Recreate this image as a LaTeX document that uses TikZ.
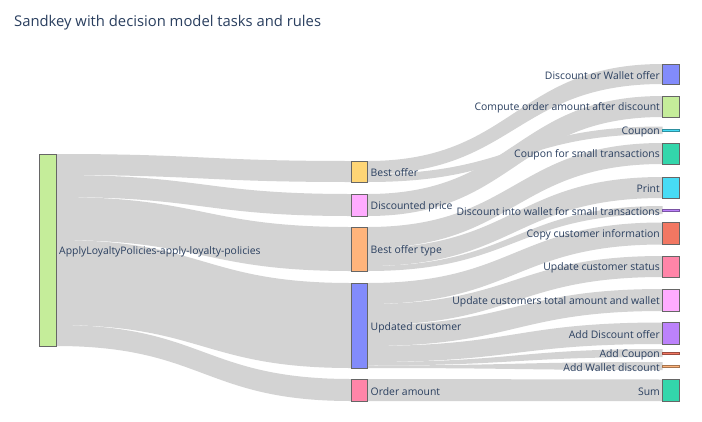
\documentclass[tikz,border=0pt]{standalone}
\usepackage{fontspec}
\setmainfont{Open Sans}
\definecolor{txt}{HTML}{2A3F5F}
\definecolor{flowc}{HTML}{D3D3D3}
\definecolor{cBlue}{HTML}{828BFB}
\definecolor{cGreen}{HTML}{C5ED9A}
\definecolor{cYellow}{HTML}{FED575}
\definecolor{cPink}{HTML}{FFACFF}
\definecolor{cOrange}{HTML}{FFB47B}
\definecolor{cRose}{HTML}{FF85A8}
\definecolor{cTeal}{HTML}{33D6AB}
\definecolor{cCyan}{HTML}{47DCF5}
\definecolor{cPurple}{HTML}{BC82FB}
\definecolor{cRed}{HTML}{F27762}
\pgfdeclarelayer{bg}
\pgfsetlayers{bg,main}
\tikzset{
  box/.style={draw=black!60, line width=0.5pt, inner sep=0pt, outer sep=0pt,
    minimum width=16.5pt, anchor=north west},
  thin/.style={box, minimum height=1.5pt, fill=#1, draw=#1!65!black},
  flow/.style={fill=flowc},
  lbl/.style={text=txt, font=\fontsize{10.4}{12}\selectfont, inner sep=0pt},
}
\newcommand\band[6]{%
  \fill[flow] ([yshift={-(#2)*1pt}]#1.north east)
    .. controls +(147.5,0) and +(-147.5,0) .. ([yshift={-(#5)*1pt}]#4.north west)
    -- ([yshift={-(#6)*1pt}]#4.north west)
    .. controls +(-147.5,0) and +(147.5,0) .. ([yshift={-(#3)*1pt}]#1.north east)
    -- cycle;}
\begin{document}
\begin{tikzpicture}[x=1pt,y=-1pt]
\useasboundingbox (0,0) rectangle (702,421);
% title
\node[anchor=base west, text=txt, inner sep=0pt, font=\fontsize{14.8}{17}\selectfont] (title) at (14,26) {Sandkey with decision model tasks and rules};
% nodes
\node[box, fill=cGreen, minimum height=192pt] (A) at (39.5,154) {};
\node[box, fill=cYellow, minimum height=21pt] (bo) at (351,161) {};
\node[box, fill=cPink, minimum height=22pt] (dp) at (351,194) {};
\node[box, fill=cOrange, minimum height=44pt] (bot) at (351,227) {};
\node[box, fill=cBlue, minimum height=85pt] (uc) at (351,283) {};
\node[box, fill=cRose, minimum height=22pt] (oa) at (351,379) {};
\node[box, fill=cBlue, minimum height=20pt] (dwo) at (662.5,64) {};
\node[box, fill=cGreen, minimum height=21pt] (coa) at (662.5,96) {};
\node[thin=cCyan] (cpn) at (662.5,129.5) {};
\node[box, fill=cTeal, minimum height=21pt] (cst) at (662.5,143) {};
\node[box, fill=cCyan, minimum height=21pt] (prt) at (662.5,177) {};
\node[thin=cPurple] (diw) at (662.5,209.5) {};
\node[box, fill=cRed, minimum height=22pt] (cci) at (662.5,222.5) {};
\node[box, fill=cRose, minimum height=21pt] (ucs) at (662.5,256) {};
\node[box, fill=cPink, minimum height=22pt] (uct) at (662.5,289) {};
\node[box, fill=cPurple, minimum height=21.5pt] (ado) at (662.5,322.5) {};
\node[thin=cRed] (acp) at (662.5,352.5) {};
\node[thin=cOrange] (awd) at (662.5,365.5) {};
\node[box, fill=cTeal, minimum height=21.5pt] (sum) at (662.5,379.5) {};
% flows
\begin{pgfonlayer}{bg}
\fill[white] (0,0) rectangle (702,421);
\band{A}{0}{21}{bo}{0}{21}
\band{A}{21}{43}{dp}{0}{22}
\band{A}{43}{86}{bot}{0}{44}
\band{A}{86}{171}{uc}{0}{85}
\band{A}{171}{192}{oa}{0}{22}
\band{bo}{0}{13}{dwo}{0}{20}
\band{bo}{13}{21}{cpn}{-3}{4.5}
\band{dp}{0}{22}{coa}{0}{21}
\band{bot}{0}{21}{cst}{0}{21}
\band{bot}{21}{39}{prt}{0}{21}
\band{bot}{39}{44}{diw}{-3.5}{4.5}
\band{uc}{0}{21}{cci}{0}{22}
\band{uc}{21}{42}{ucs}{0}{21}
\band{uc}{42}{63}{uct}{0}{22}
\band{uc}{63}{79}{ado}{0}{21.5}
\band{uc}{79}{82.5}{acp}{-3.5}{4.5}
\band{uc}{82.5}{85}{awd}{-3.5}{4.5}
\band{oa}{0}{22}{sum}{0}{21.5}
\end{pgfonlayer}
% labels
\node[lbl, anchor=west] (lA) at ([xshift=3pt,yshift=-2pt]A.east) {ApplyLoyaltyPolicies-apply-loyalty-policies};
\node[lbl, anchor=west] (lbo) at ([xshift=3pt,yshift=-1.5pt]bo.east) {Best offer};
\node[lbl, anchor=west] (ldp) at ([xshift=3pt,yshift=-1.5pt]dp.east) {Discounted price};
\node[lbl, anchor=west] (lbot) at ([xshift=3pt,yshift=-2pt]bot.east) {Best offer type};
\node[lbl, anchor=west] (luc) at ([xshift=3pt,yshift=-2pt]uc.east) {Updated customer};
\node[lbl, anchor=west] (loa) at ([xshift=3pt,yshift=-2pt]oa.east) {Order amount};
\node[lbl, anchor=east] (ldwo) at ([xshift=-2.5pt,yshift=-1.5pt]dwo.west) {Discount or Wallet offer};
\node[lbl, anchor=east] (lcoa) at ([xshift=-2.5pt,yshift=-1.5pt]coa.west) {Compute order amount after discount};
\node[lbl, anchor=east] (lcpn) at ([xshift=-2.5pt,yshift=-1.5pt]cpn.west) {Coupon};
\node[lbl, anchor=east] (lcst) at ([xshift=-2.5pt,yshift=-1.5pt]cst.west) {Coupon for small transactions};
\node[lbl, anchor=east] (lprt) at ([xshift=-2.5pt,yshift=-1.5pt]prt.west) {Print};
\node[lbl, anchor=east] (ldiw) at ([xshift=-2.5pt,yshift=-1.5pt]diw.west) {Discount into wallet for small transactions};
\node[lbl, anchor=east] (lcci) at ([xshift=-2.5pt,yshift=-1.5pt]cci.west) {Copy customer information};
\node[lbl, anchor=east] (lucs) at ([xshift=-2.5pt,yshift=-1.5pt]ucs.west) {Update customer status};
\node[lbl, anchor=east] (luct) at ([xshift=-2.5pt,yshift=-1.5pt]uct.west) {Update customers total amount and wallet};
\node[lbl, anchor=east] (lado) at ([xshift=-2.5pt,yshift=-1.5pt]ado.west) {Add Discount offer};
\node[lbl, anchor=east] (lacp) at ([xshift=-2.5pt,yshift=-1.5pt]acp.west) {Add Coupon};
\node[lbl, anchor=east] (lawd) at ([xshift=-2.5pt,yshift=-1.5pt]awd.west) {Add Wallet discount};
\node[lbl, anchor=east] (lsum) at ([xshift=-2.5pt,yshift=-1.5pt]sum.west) {Sum};
\end{tikzpicture}
\end{document}
